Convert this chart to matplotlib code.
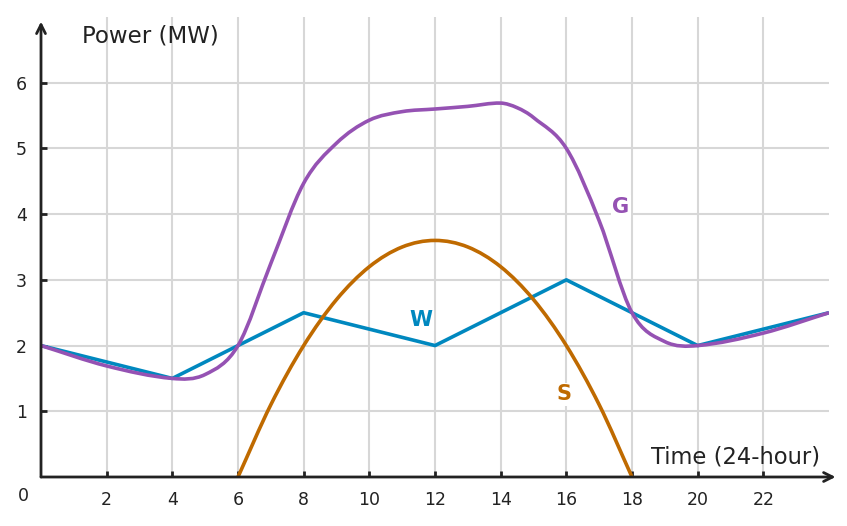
import matplotlib as mpl
mpl.use('Agg')
import matplotlib.pyplot as plt
from matplotlib.path import Path
from matplotlib.patches import PathPatch

# wind (piecewise linear)
w_x = [0, 4, 8, 12, 16, 20, 24]
w_y = [2.0, 1.5, 2.5, 2.0, 3.0, 2.0, 2.5]

# solar
s_x = [6, 7, 8, 9, 10, 11, 12, 13, 14, 15, 16, 17, 18]
s_y = [0.0, 1.1, 2.0, 2.7, 3.2, 3.5, 3.6, 3.5, 3.2, 2.7, 2.0, 1.1, 0.0]

# grid demand
g_x = [0, 2, 4, 5, 6, 7, 8, 9, 10, 11, 12, 13, 14, 14.5, 15, 16, 17, 18, 19, 20, 22, 24]
g_y = [2.0, 1.69, 1.5, 1.56, 2.0, 3.25, 4.47, 5.08, 5.43, 5.56, 5.6, 5.64, 5.69,
       5.62, 5.47, 5.0, 3.9, 2.5, 2.06, 2.0, 2.19, 2.5]

x_ticks = [2, 4, 6, 8, 10, 12, 14, 16, 18, 20, 22]
y_ticks = [1, 2, 3, 4, 5, 6]

BLUE = '#0088bf'
ORANGE = '#bf6a00'
PURPLE = '#9552b3'
DARK = '#222222'


def smooth_path(xs, ys):
    # cubic hermite through the read points, drawn as bezier segments
    n = len(xs)
    m = []
    for i in range(n):
        a = max(i - 1, 0)
        b = min(i + 1, n - 1)
        m.append((ys[b] - ys[a]) / (xs[b] - xs[a]))
    verts = [(xs[0], ys[0])]
    codes = [Path.MOVETO]
    for i in range(n - 1):
        h = (xs[i + 1] - xs[i]) / 3.0
        verts += [(xs[i] + h, ys[i] + m[i] * h),
                  (xs[i + 1] - h, ys[i + 1] - m[i + 1] * h),
                  (xs[i + 1], ys[i + 1])]
        codes += [Path.CURVE4] * 3
    return Path(verts, codes)


fig = plt.figure(figsize=(8.47, 5.26), dpi=100)
ax = fig.add_axes([41/847, 49/526, 788/847, 460/526])
ax.set_xlim(0, 24)
ax.set_ylim(0, 7)

for s in ax.spines.values():
    s.set_visible(False)

for xv in x_ticks:
    ax.axvline(xv, color='#d7d7d7', lw=1.5, zorder=0)
for yv in y_ticks:
    ax.axhline(yv, color='#d7d7d7', lw=1.5, zorder=0)

ax.plot(w_x, w_y, color=BLUE, lw=2.6, zorder=3, solid_capstyle='butt')
ax.add_patch(PathPatch(smooth_path(s_x, s_y), facecolor='none',
                       edgecolor=ORANGE, lw=2.6, zorder=4, capstyle='butt'))
ax.add_patch(PathPatch(smooth_path(g_x, g_y), facecolor='none',
                       edgecolor=PURPLE, lw=2.6, zorder=5, capstyle='butt'))

# axes arrows
ax.annotate('', xy=(24.2, 0), xytext=(0, 0), annotation_clip=False,
            arrowprops=dict(arrowstyle='->', color=DARK, lw=2,
                            shrinkA=0, shrinkB=0, mutation_scale=16), zorder=6)
ax.annotate('', xy=(0, 6.93), xytext=(0, 0), annotation_clip=False,
            arrowprops=dict(arrowstyle='->', color=DARK, lw=2,
                            shrinkA=0, shrinkB=0, mutation_scale=16), zorder=6)

ax.set_xticks(x_ticks)
ax.set_yticks(y_ticks)
ax.tick_params(direction='in', length=4, width=2, color=DARK,
               labelcolor=DARK, labelsize=12.5, pad=10)
ax.text(-0.55, -0.29, '0', ha='center', va='center', fontsize=12.5, color=DARK)

ax.text(1.25, 6.71, 'Power (MW)', ha='left', va='center', fontsize=16.5, color=DARK)
ax.text(18.57, 0.31, 'Time (24-hour)', ha='left', va='center', fontsize=16.3, color=DARK)

lbl_box = dict(facecolor='white', edgecolor='none', pad=1)
ax.text(11.57, 2.39, 'W', color=BLUE, fontsize=15, fontweight='bold',
        ha='center', va='center', bbox=lbl_box, zorder=2)
ax.text(15.92, 1.26, 'S', color=ORANGE, fontsize=15, fontweight='bold',
        ha='center', va='center', bbox=lbl_box, zorder=2)
ax.text(17.66, 4.11, 'G', color=PURPLE, fontsize=15, fontweight='bold',
        ha='center', va='center', bbox=lbl_box, zorder=2)

fig.savefig('out.png', dpi=100)
